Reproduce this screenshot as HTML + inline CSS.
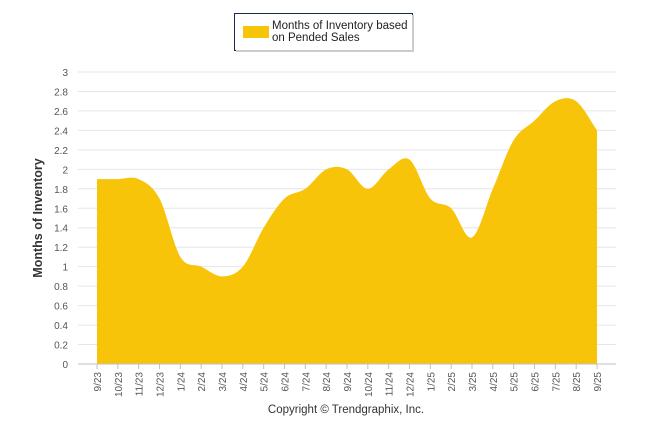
<!DOCTYPE html>
<html><head><meta charset="utf-8"><style>
body{margin:0;background:#fff;}
svg{display:block;font-family:"Liberation Sans",Arial,sans-serif;}
</style></head><body>
<svg width="646" height="434" viewBox="0 0 646 434">
<g id="grid"></g>
<g id="yticks"></g>
<path id="area" fill="#f7c40a"></path>
<line x1="78" y1="364" x2="616" y2="364" stroke="#c0c0c0"/>
<g id="xticks"></g>
<text x="0" y="0" transform="translate(42,218) rotate(-90)" text-anchor="middle" font-size="12.5" font-weight="bold" fill="#333">Months of Inventory</text>
<g>
<rect x="234.5" y="13.5" width="178" height="37" fill="#fff" stroke="#1a2a4a"/>
<rect x="412" y="15" width="2" height="37" fill="#ccc"/>
<rect x="236" y="50" width="178" height="2" fill="#ccc"/>
<rect x="243" y="26" width="26" height="12" fill="#f7c40a"/>
<text x="272" y="29" font-size="11.5" fill="#222">Months of Inventory based</text>
<text x="272" y="41" font-size="11.5" fill="#222">on Pended Sales</text>
</g>
<text x="346" y="413" text-anchor="middle" font-size="11.5" fill="#333">Copyright © Trendgraphix, Inc.</text>
</svg>
<script>
const categories=["9/23","10/23","11/23","12/23","1/24","2/24","3/24","4/24","5/24","6/24","7/24","8/24","9/24","10/24","11/24","12/24","1/25","2/25","3/25","4/25","5/25","6/25","7/25","8/25","9/25"];
const values=[1.9,1.9,1.9,1.7,1.1,1.0,0.9,1.0,1.4,1.7,1.8,2.0,2.0,1.8,2.0,2.1,1.7,1.6,1.3,1.8,2.3,2.5,2.7,2.7,2.4];
const yTicks=[0,0.2,0.4,0.6,0.8,1,1.2,1.4,1.6,1.8,2,2.2,2.4,2.6,2.8,3];
const NS="http://www.w3.org/2000/svg";
const x0=97,x1=597,yb=364,yt=72,ymax=3;
function xs(i){return x0+(x1-x0)*i/(categories.length-1);}
function ys(v){return yb-(yb-yt)*v/ymax;}
const grid=document.getElementById('grid'),yg=document.getElementById('yticks'),xg=document.getElementById('xticks');
yTicks.forEach(t=>{
 const l=document.createElementNS(NS,'line');
 l.setAttribute('x1',78);l.setAttribute('x2',616);l.setAttribute('y1',ys(t));l.setAttribute('y2',ys(t));
 l.setAttribute('stroke','#e6e6e6');
 
 
 grid.appendChild(l);
 const tx=document.createElementNS(NS,'text');
 tx.setAttribute('x',68);tx.setAttribute('y',ys(t)+4);tx.setAttribute('text-anchor','end');
 tx.setAttribute('font-size','10');tx.setAttribute('fill','#555');
 tx.textContent=String(t);
 
 
 yg.appendChild(tx);
});
categories.forEach((c,i)=>{
 const x=xs(i);
 const l=document.createElementNS(NS,'line');
 l.setAttribute('x1',x);l.setAttribute('x2',x);l.setAttribute('y1',364);l.setAttribute('y2',369);
 l.setAttribute('stroke','#c0c0c0');
 
 
 xg.appendChild(l);
 const tx=document.createElementNS(NS,'text');
 tx.setAttribute('transform','translate('+(x+4)+',372) rotate(-90)');
 tx.setAttribute('text-anchor','end');tx.setAttribute('font-size','10');tx.setAttribute('fill','#555');
 tx.textContent=c;
 
 
 xg.appendChild(tx);
});
const pts=values.map((v,i)=>[xs(i),ys(v)]);
let d='M'+pts[0][0]+','+yb+' L'+pts[0][0]+','+pts[0][1];
for(let i=0;i<pts.length-1;i++){
 const p0=pts[Math.max(0,i-1)],p1=pts[i],p2=pts[i+1],p3=pts[Math.min(pts.length-1,i+2)];
 const c1=[p1[0]+(p2[0]-p0[0])/6,p1[1]+(p2[1]-p0[1])/6];
 const c2=[p2[0]-(p3[0]-p1[0])/6,p2[1]-(p3[1]-p1[1])/6];
 d+=' C'+c1+' '+c2+' '+p2;
}
d+=' L'+pts[pts.length-1][0]+','+yb+' Z';
document.getElementById('area').setAttribute('d',d);
</script>
</body></html>
